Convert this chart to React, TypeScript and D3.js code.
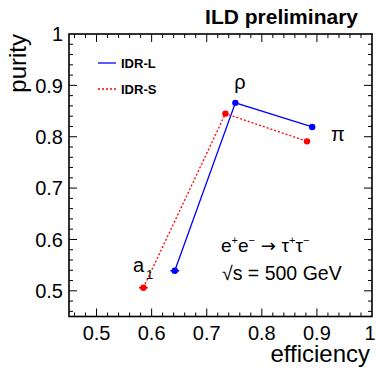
import React from "react";
import * as d3 from "d3";

const channels = ["a1", "rho", "pi"];
const idrLEff = [0.642, 0.752, 0.8915];
const idrLPur = [0.539, 0.866, 0.819];
const idrLEffErr = [0.008, 0.002, 0.002];
const idrLPurErr = [0.005, 0.002, 0.002];
const idrSEff = [0.585, 0.734, 0.882];
const idrSPur = [0.506, 0.845, 0.791];
const idrSEffErr = [0.008, 0.002, 0.002];
const idrSPurErr = [0.005, 0.002, 0.002];
const xTicks = [0.5, 0.6, 0.7, 0.8, 0.9, 1];
const yTicks = [0.5, 0.6, 0.7, 0.8, 0.9, 1];
const xTickLabels = ["0.5", "0.6", "0.7", "0.8", "0.9", "1"];
const yTickLabels = ["0.5", "0.6", "0.7", "0.8", "0.9", "1"];

const W = 376, H = 369;
const L = 69, R = 372, T = 34, B = 316.5;
const FONT = "'Liberation Sans', Arial, Helvetica, sans-serif";

export default function App() {
  const x = d3.scaleLinear().domain([0.45, 1]).range([L, R]);
  const y = d3.scaleLinear().domain([0.45, 1]).range([B, T]);
  const minor = d3.range(0, 28).map((i) => +(0.46 + i * 0.02).toFixed(2)).filter((v) => v < 1);
  const mk = (ex: number[], py: number[]) =>
    d3.line<number>().x((d) => x(d)).y((_, i) => y(py[i]))(ex) || "";

  const series = [
    { eff: idrLEff, pur: idrLPur, ee: idrLEffErr, pe: idrLPurErr, color: "#0000ff", dash: undefined as string | undefined },
    { eff: idrSEff, pur: idrSPur, ee: idrSEffErr, pe: idrSPurErr, color: "#ff0000", dash: "2,2" },
  ];

  const ticks: any[] = [];
  minor.forEach((v, i) => {
    const r = Math.round(v * 100) % 10;
    const len = r === 0 ? 8 : 4;
    ticks.push(<line key={"xb" + i} x1={x(v)} x2={x(v)} y1={B} y2={B - len} />);
    ticks.push(<line key={"xt" + i} x1={x(v)} x2={x(v)} y1={T} y2={T + len} />);
    ticks.push(<line key={"yl" + i} y1={y(v)} y2={y(v)} x1={L} x2={L + len} />);
    ticks.push(<line key={"yr" + i} y1={y(v)} y2={y(v)} x1={R} x2={R - len} />);
  });

  return (
    <svg width={W} height={H} style={{ position: "absolute", left: 0, top: 0, background: "#fff" }} fontFamily={FONT}>
      <rect x={0} y={0} width={W} height={H} fill="#fff" />
      <text x={358} y={24} textAnchor="end" fontWeight="bold" fontSize={21}>ILD preliminary</text>
      <g stroke="#000" strokeWidth={1}>{ticks}</g>
      <rect x={L} y={T} width={R - L} height={B - T} fill="none" stroke="#000" strokeWidth={1.6} />
      {xTicks.map((v, i) => (
        <text key={"xl" + i} x={i === xTicks.length - 1 ? x(v) - 2 : x(v)} y={340} textAnchor="middle" fontSize={20}>{xTickLabels[i]}</text>
      ))}
      {yTicks.map((v, i) => (
        <text key={"yl" + i} x={63} y={y(v)} dy="0.36em" textAnchor="end" fontSize={20}>{yTickLabels[i]}</text>
      ))}
      <text x={370} y={362} textAnchor="end" fontSize={24}>efficiency</text>
      <text transform={`translate(26,34) rotate(-90)`} textAnchor="end" fontSize={24}>purity</text>

      {series.map((s, si) => (
        <g key={"s" + si}>
          <path d={mk(s.eff, s.pur)} fill="none" stroke={s.color} strokeWidth={1.3} strokeDasharray={s.dash} />
          {s.eff.map((e, i) => (
            <g key={i} stroke={s.color} strokeWidth={1.6}>
              <line x1={x(e - s.ee[i])} x2={x(e + s.ee[i])} y1={y(s.pur[i])} y2={y(s.pur[i])} />
              <line x1={x(e)} x2={x(e)} y1={y(s.pur[i] - s.pe[i])} y2={y(s.pur[i] + s.pe[i])} />
              <circle cx={x(e)} cy={y(s.pur[i])} r={3.2} fill={s.color} stroke="none" />
            </g>
          ))}
        </g>
      ))}

      <line x1={98} x2={116} y1={63} y2={63} stroke="#0000ff" strokeWidth={1.3} />
      <text x={121} y={63} dy="0.36em" fontSize={13} fontWeight="bold">IDR-L</text>
      <line x1={98} x2={116} y1={89} y2={89} stroke="#ff0000" strokeWidth={1.3} strokeDasharray="2,2" />
      <text x={121} y={89} dy="0.36em" fontSize={13} fontWeight="bold">IDR-S</text>

      <text x={240} y={89} textAnchor="middle" fontSize={20}>ρ</text>
      <text x={338} y={141} textAnchor="middle" fontSize={20}>π</text>
      <text x={133} y={272} fontSize={20}>a</text>
      <text x={146} y={279} fontSize={13}>1</text>

      <text x={221} y={252} fontSize={19}>
        e<tspan fontSize={11} dy={-8}>+</tspan><tspan dy={8}>e</tspan><tspan fontSize={11} dy={-8}>−</tspan>
        <tspan dy={8} fontFamily="'DejaVu Sans', sans-serif" fontSize={18}> → </tspan><tspan>τ</tspan><tspan fontSize={11} dy={-8}>+</tspan><tspan dy={8}>τ</tspan><tspan fontSize={11} dy={-8}>−</tspan>
      </text>
      <text x={222} y={280} fontSize={19.5}>√s = 500 GeV</text>
    </svg>
  );
}
